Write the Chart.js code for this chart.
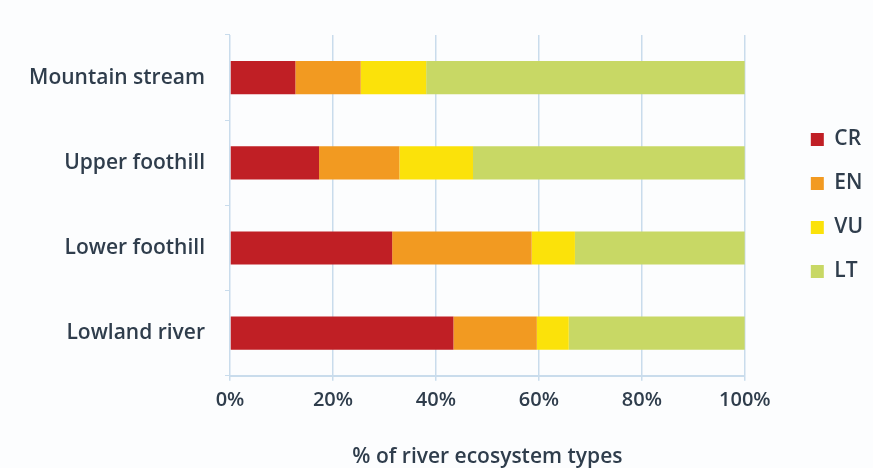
<!DOCTYPE html>
<html>
<head>
<meta charset="utf-8">
<script src="https://cdn.jsdelivr.net/npm/chart.js@4.4.1/dist/chart.umd.min.js"></script>
<style>
  html, body { margin: 0; padding: 0; background: #fcfdfe; }
  #wrap { width: 873px; height: 468px; position: relative; }
</style>
</head>
<body>
<div id="wrap"><canvas id="grafico"></canvas></div>
<script>
const categorias = ['Mountain stream', 'Upper foothill', 'Lower foothill', 'Lowland river'];
const valoresCR = [12.7, 17.3, 31.5, 43.4];
const valoresEN = [12.7, 15.6, 27.1, 16.2];
const valoresVU = [12.7, 14.3, 8.4, 6.2];
const valoresLT = [61.9, 52.8, 33.0, 34.2];
const ticksX = [0, 20, 40, 60, 80, 100];

const colorTexto = '#2f3d4c';
const colorRejilla = '#c9dcec';
const fuente = "'Open Sans', sans-serif";

const ctx = document.getElementById('grafico');

new Chart(ctx, {
  type: 'bar',
  data: {
    labels: categorias,
    datasets: [
      { label: 'CR', data: valoresCR, backgroundColor: '#c01f25' },
      { label: 'EN', data: valoresEN, backgroundColor: '#f29a21' },
      { label: 'VU', data: valoresVU, backgroundColor: '#fbe20a' },
      { label: 'LT', data: valoresLT, backgroundColor: '#c8d865' }
    ]
  },
  options: {
    indexAxis: 'y',
    responsive: true,
    maintainAspectRatio: false,
    animation: false,
    layout: {
      padding: { top: 35, right: 0, bottom: -2, left: 0 }
    },
    datasets: {
      bar: {
        categoryPercentage: 0.39,
        barPercentage: 1
      }
    },
    plugins: {
      tooltip: { enabled: false },
      legend: {
        position: 'right',
        fullSize: false,
        labels: {
          boxWidth: 13,
          boxHeight: 13,
          padding: 23,
          color: colorTexto,
          font: { size: 21, family: fuente, weight: '600' }
        }
      }
    },
    scales: {
      x: {
        stacked: true,
        min: 0,
        max: 100,
        afterBuildTicks: (escala) => {
          escala.ticks = ticksX.map((v) => ({ value: v }));
        },
        ticks: {
          callback: (v) => v + '%',
          color: colorTexto,
          padding: 7,
          maxRotation: 0,
          font: { size: 20, family: fuente, weight: '600' }
        },
        grid: {
          color: colorRejilla,
          lineWidth: 1.5,
          tickLength: 5
        },
        border: { color: colorRejilla, width: 2 },
        title: {
          display: true,
          text: '% of river ecosystem types',
          color: colorTexto,
          padding: { top: 26, bottom: 0 },
          font: { size: 21, family: fuente, weight: '600' }
        }
      },
      y: {
        stacked: true,
        afterFit: (escala) => {
          escala.width = 230;
        },
        ticks: {
          color: colorTexto,
          padding: 20,
          font: { size: 21, family: fuente, weight: '600' }
        },
        grid: {
          offset: true,
          drawOnChartArea: false,
          color: colorRejilla,
          tickLength: 5
        },
        border: { display: false }
      },
      separador: {
        type: 'linear',
        position: 'right',
        afterFit: (escala) => {
          escala.width = 43;
        },
        ticks: { display: false },
        grid: { display: false },
        border: { display: false }
      }
    }
  }
});
</script>
</body>
</html>
